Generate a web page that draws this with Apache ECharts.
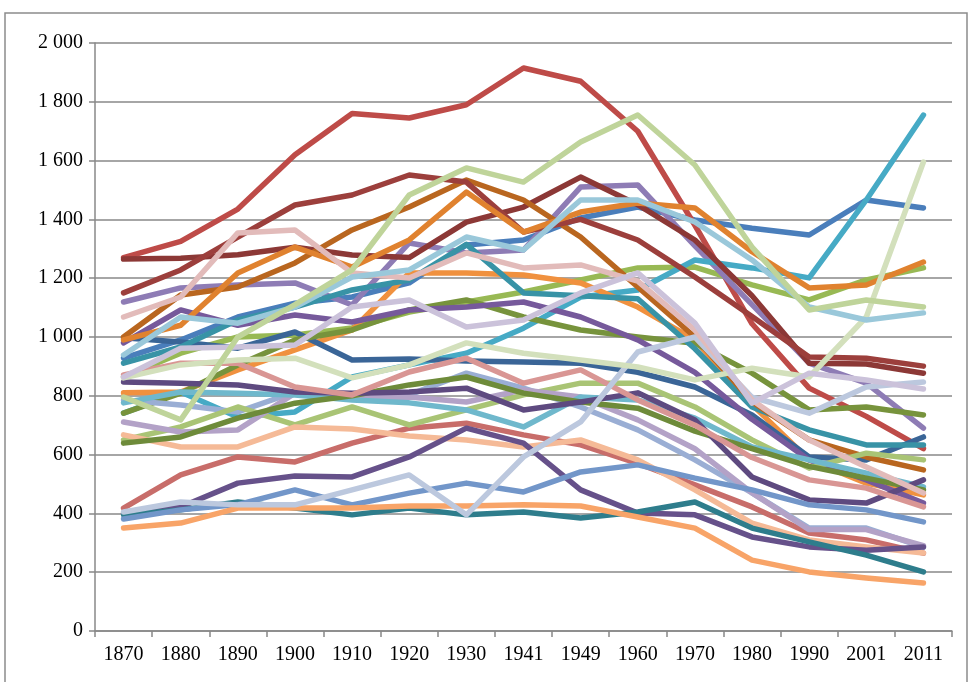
<!DOCTYPE html>
<html><head><meta charset="utf-8">
<script src="https://cdn.jsdelivr.net/npm/echarts@6/dist/echarts.min.js"></script>
<style>html,body{margin:0;padding:0;background:#fff}#c{width:970px;height:682px}</style>
</head><body><div id="c"></div>
<script>
const years = ['1870','1880','1890','1900','1910','1920','1930','1941','1949','1960','1970','1980','1990','2001','2011'];
const yTicks = [0,200,400,600,800,1000,1200,1400,1600,1800,2000];

const sBlue      = [928,990,1068,1115,1136,1184,1313,1330,1405,1442,1398,1370,1347,1466,1439];
const sRed       = [1270,1325,1435,1620,1760,1745,1790,1915,1870,1700,1380,1045,826,730,620];
const sGreen     = [864,945,1000,1007,1031,1085,1119,1153,1194,1235,1238,1177,1126,1194,1235];
const sPurple    = [1119,1167,1177,1184,1109,1320,1286,1296,1510,1517,1310,1110,911,843,690];
const sAqua      = [741,813,728,745,864,905,945,1030,1136,1160,1262,1235,1201,1466,1755];
const sOrange    = [810,813,888,956,1024,1218,1218,1211,1184,1102,990,770,582,503,463];
const sDarkBlue  = [997,983,962,1017,922,925,918,915,911,880,830,735,592,582,660];
const sDarkRed1  = [1265,1268,1280,1305,1279,1270,1391,1442,1544,1450,1330,1140,911,908,877];
const sOlive     = [741,809,905,990,1024,1092,1126,1068,1024,1000,979,877,752,762,735];
const sPurple2   = [980,1092,1040,1075,1051,1092,1102,1119,1068,990,880,720,582,514,435];
const sTeal      = [911,966,1058,1102,1160,1194,1315,1150,1140,1130,960,762,684,633,633];
const sBrown     = [1000,1143,1170,1252,1364,1442,1534,1466,1340,1170,1000,780,650,592,548];
const sBlueGray  = [786,769,745,813,792,803,877,826,762,684,582,470,350,350,285];
const sRose      = [418,531,592,575,639,690,707,667,633,570,497,422,333,310,265];
const sLeaf      = [650,694,762,701,762,701,752,803,843,843,762,650,554,605,582];
const sLilac     = [711,677,684,809,792,796,779,820,796,718,620,470,345,345,290];
const sSky       = [776,813,809,803,786,776,752,694,796,786,724,626,582,537,490];
const sPeach     = [667,626,626,694,687,663,650,626,650,582,480,367,310,286,265];
const sDarkRed2  = [1150,1228,1340,1449,1483,1551,1527,1357,1400,1330,1204,1070,932,928,901];
const sDarkOlive = [639,660,724,775,800,837,864,809,779,758,680,620,560,520,480];
const sPlum      = [847,843,837,813,809,813,826,752,779,810,718,524,446,435,514];
const sDeepPlum  = [400,422,503,527,524,592,690,639,480,401,395,320,286,275,286];
const sDeepTeal  = [395,412,439,418,395,418,395,405,384,405,439,350,303,258,201];
const sOrange2   = [990,1040,1218,1306,1238,1330,1493,1357,1425,1456,1439,1290,1167,1177,1255];
const sMauve     = [871,911,911,830,803,881,928,843,888,786,700,590,514,486,422];
const sSteel     = [381,412,430,480,429,469,503,473,541,565,520,480,429,412,371];
const sApricot   = [350,367,418,418,418,425,425,429,425,388,350,241,201,180,163];
const sMist      = [405,439,429,429,480,531,395,592,711,949,1000,795,741,830,847];
const sPink      = [1068,1136,1354,1364,1218,1201,1286,1235,1245,1190,1024,786,650,558,469];
const sSage      = [861,905,922,928,861,905,980,945,922,898,854,894,864,1068,1595];
const sLavender  = [864,962,966,973,1102,1126,1034,1058,1150,1218,1047,775,877,854,823];
const sLightBlue = [939,1068,1047,1102,1204,1228,1340,1296,1466,1466,1391,1262,1102,1058,1082];
const sPaleGreen = [796,718,1000,1110,1228,1483,1575,1527,1663,1755,1585,1306,1092,1126,1102];

const seriesDefs = [
  [sBlue,'#4A7EBB'],[sRed,'#BE4B48'],[sGreen,'#98B954'],[sPurple,'#8E7CB5'],[sAqua,'#46AAC5'],[sOrange,'#F0913F'],
  [sDarkBlue,'#3A6597'],[sDarkRed1,'#8C3836'],[sOlive,'#77933C'],[sPurple2,'#76599B'],[sTeal,'#3893A6'],[sBrown,'#B9661F'],
  [sBlueGray,'#9AAED4'],[sRose,'#C86D6A'],[sLeaf,'#A9C475'],[sLilac,'#B3A2C7'],[sSky,'#6FB8CC'],[sPeach,'#F5BA97'],
  [sDarkRed2,'#9C3F3C'],[sDarkOlive,'#6E8B3A'],[sPlum,'#5E4A80'],[sDeepPlum,'#66518A'],[sDeepTeal,'#2E7D8C'],[sOrange2,'#E0822F'],
  [sMauve,'#D99694'],[sSteel,'#7296C9'],[sApricot,'#F8A468'],[sMist,'#BCC8DE'],[sPink,'#E2BBBA'],[sSage,'#D3E0BC'],
  [sLavender,'#CBC2DA'],[sLightBlue,'#9AC8DA'],[sPaleGreen,'#BFD49A']
];

function fmt(v){ if(v>=1000){ const r=v%1000; return Math.floor(v/1000)+' '+String(r).padStart(3,'0'); } return String(v); }

const chart = echarts.init(document.getElementById('c'), null, {renderer:'canvas'});
const FONT = '"Liberation Serif", "DejaVu Serif", serif';
chart.setOption({
  animation:false,
  backgroundColor:'#fff',
  graphic:[{type:'rect', shape:{x:5,y:13,width:962,height:680}, style:{fill:'none', stroke:'#8C8C8C', lineWidth:1.5}, z:-1}],
  grid:{left:95,right:18,top:43,bottom:51,containLabel:false},
  xAxis:{type:'category',data:years,boundaryGap:true,
    axisLine:{lineStyle:{color:'#888888',width:1.5}},
    axisTick:{show:true,length:6,lineStyle:{color:'#888888',width:1.5}},
    axisLabel:{color:'#000',fontFamily:FONT,fontSize:20,margin:14}},
  yAxis:{type:'value',min:yTicks[0],max:yTicks[yTicks.length-1],interval:200,
    axisLine:{show:true,lineStyle:{color:'#888888',width:1.5}},
    axisTick:{show:true,length:6,lineStyle:{color:'#888888',width:1.5}},
    splitLine:{show:true,lineStyle:{color:'#888888',width:1.5}},
    axisLabel:{color:'#000',fontFamily:FONT,fontSize:20,margin:12,formatter:fmt}},
  series: seriesDefs.map(([d,c])=>({type:'line',data:d,symbol:'none',smooth:false,
    lineStyle:{color:c,width:5.5,cap:'round',join:'round'},itemStyle:{color:c}}))
});
</script></body></html>
